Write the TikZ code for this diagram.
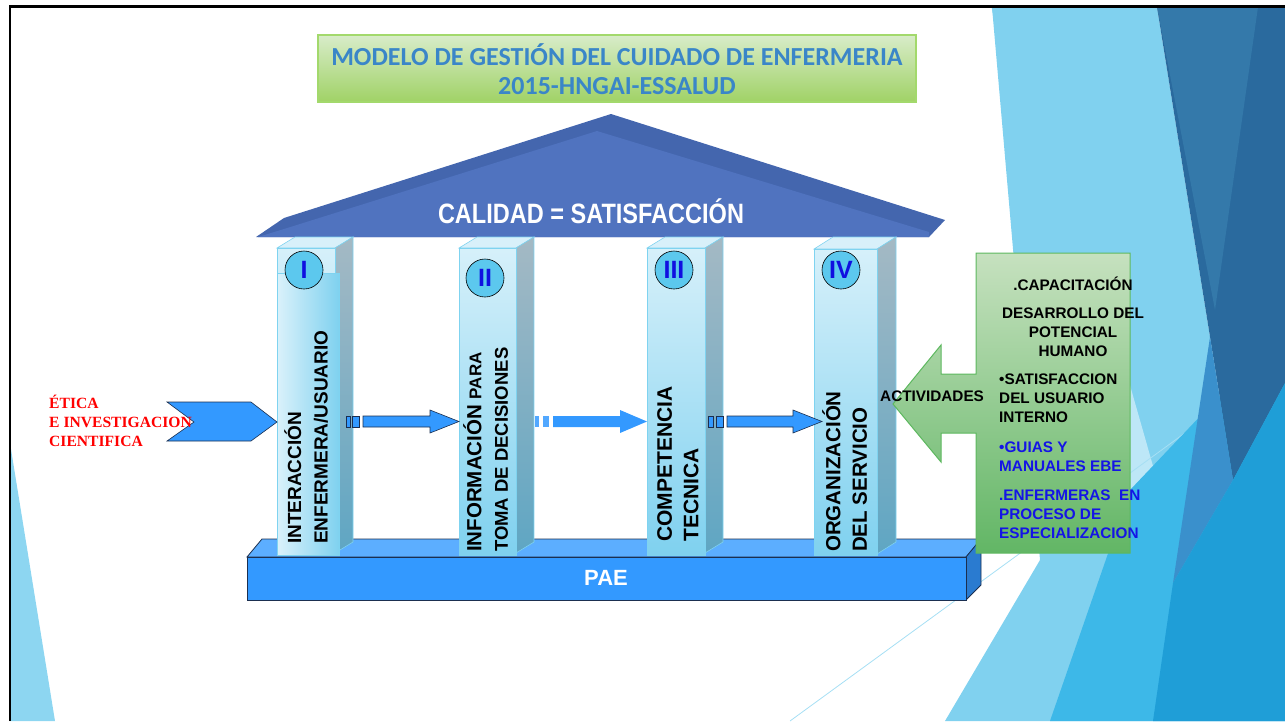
\documentclass[tikz,border=0pt]{standalone}
\usepackage{fontspec}
\setmainfont{Liberation Sans}
\newfontfamily\ttlfont{Carlito}
\newfontfamily\redfont{Liberation Serif}
\usetikzlibrary{positioning}

\definecolor{ttlblue}{HTML}{3A86C8}
\definecolor{ttltop}{HTML}{D8ECC9}
\definecolor{ttlbot}{HTML}{A0D266}
\definecolor{ttlline}{HTML}{A3D96C}
\definecolor{roofdark}{HTML}{4466AE}
\definecolor{roofface}{HTML}{5073BF}
\definecolor{pilhi}{HTML}{D6F0FA}
\definecolor{pillo}{HTML}{7FD1EF}
\definecolor{pilline}{HTML}{7FD3F0}
\definecolor{sidehi}{HTML}{A4B9C4}
\definecolor{sidelo}{HTML}{5FA6C3}
\definecolor{piltopc}{HTML}{D8F0FA}
\definecolor{numfill}{HTML}{5CC8EE}
\definecolor{numblue}{HTML}{1010E0}
\definecolor{arrblue}{HTML}{3399FF}
\definecolor{arrline}{HTML}{1B2F50}
\definecolor{paetop}{HTML}{5CAEFF}
\definecolor{paeside}{HTML}{2A7BD0}
\definecolor{grtop}{HTML}{C6E1BF}
\definecolor{grbot}{HTML}{62B665}
\definecolor{grline}{HTML}{5DB85F}
\definecolor{txblue}{HTML}{1414E6}
\definecolor{bglight}{HTML}{80D1EF}
\definecolor{bgpale}{HTML}{BDE7F7}
\definecolor{bgsteel}{HTML}{3479AA}
\definecolor{bgdark}{HTML}{2A6A9E}
\definecolor{bgmid}{HTML}{3A90CC}
\definecolor{bgbright}{HTML}{3DB8E8}
\definecolor{bgdeep}{HTML}{1F9ED7}

\begin{document}
\begin{tikzpicture}[x=1pt,y=-1pt,
  pilfront/.style={draw=pilline, line width=0.6, top color=pilhi, bottom color=pillo},
  pilside/.style={draw=pilline, line width=0.6, top color=sidehi, bottom color=sidelo},
  piltop/.style={draw=pilline, line width=0.6, fill=piltopc},
  num/.style={circle, draw=black, line width=0.6, fill=numfill, minimum size=38, inner sep=0,
    text=numblue, font={\fontsize{25}{25}\selectfont\bfseries}},
  coltext/.style={rotate=90, anchor=north west, align=left, inner sep=0,
    font={\fontsize{20.5}{26.5}\selectfont\bfseries}},
  blk/.style={fill=arrblue, draw=arrline, line width=0.6},
  boxtext/.style={inner sep=0, font={\fontsize{15.3}{19}\selectfont\bfseries}}
  ]
\useasboundingbox (0,0) rectangle (1285,721);

% background facets
\begin{scope}
\clip (0,0) rectangle (1285,721);
\fill[bglight] (992,7) -- (1157,7) -- (1233,480) -- (1285,383) -- (1285,721) -- (945,721) -- (1040,560) -- cycle;
\fill[bgpale] (1100,280) -- (1157,480) -- (1120,505) -- cycle;
\draw[bglight!70!white, line width=0.8] (790,721) -- (1285,360);
\draw[bglight, line width=0.8] (1040,260) -- (992,7);
\fill[bgbright] (1285,327) -- (1285,721) -- (1050,721) -- (1130,490) -- cycle;
\fill[bgdark] (1157,7) -- (1285,7) -- (1285,383) -- (1233,480) -- cycle;
\fill[bgsteel] (1157,7) -- (1258,7) -- (1215,310) -- cycle;
\fill[bgmid] (1210,337) -- (1233,480) -- (1173,583) -- cycle;
\fill[bgdeep] (1233,480) -- (1285,383) -- (1285,721) -- (1153,721) -- (1173,583) -- cycle;
\fill[bglight!90!white] (10,443) -- (55,721) -- (10,721) -- cycle;
\end{scope}
\draw[line width=2.4] (10,721) -- (10,6.5) -- (1285,6.5);

% title
\draw[ttlline, line width=1.5, top color=ttltop, bottom color=ttlbot] (318,35) rectangle (916,102);
\node (title) at (617,69) [align=center, inner sep=0, text=ttlblue,
  font={\ttlfont\fontsize{26}{29}\selectfont\bfseries}] {MODELO DE GESTIÓN DEL CUIDADO DE ENFERMERIA\\2015-HNGAI-ESSALUD};

% PAE base
\draw[arrline, line width=0.8, fill=paetop] (247,557) -- ++(15,-18) -- (981,539) -- (966,557) -- cycle;
\draw[arrline, line width=0.8, fill=paeside] (966,557) -- (981,539) -- (981,585) -- (966,600) -- cycle;
\draw[arrline, line width=0.8, fill=arrblue] (247,557) rectangle (966,600);
\node (pae) at (606,578) [text=white, font={\fontsize{22}{22}\selectfont\bfseries}] {PAE};

% roof
\fill[roofdark] (256,237) -- (284,218) -- (611,114) -- (945,220) -- (929,237) -- cycle;
\fill[roofface] (258,237) -- (284,229) -- (597,131) -- (929,232) -- (929,237) -- cycle;
\node (calidad) at (591,211) [text=white, font={\fontsize{28}{28}\selectfont\bfseries}] {\scalebox{0.84}[1]{CALIDAD = SATISFACCIÓN}};

% pillar I
\draw[piltop] (277,248) -- ++(18,-11) -- ++(58,0) -- ++(-18,11) -- cycle;
\draw[pilside] (335,248) -- ++(18,-11) -- ++(0,305) -- ++(-18,11) -- cycle;
\draw[pilfront] (277,248) rectangle (335,555);
\draw[draw=pilline, line width=0.6, left color=pilhi!90!white, right color=pillo] (277,273) rectangle (339,555);
% pillar II
\draw[piltop] (459,248) -- ++(18,-11) -- ++(57,0) -- ++(-18,11) -- cycle;
\draw[pilside] (516,248) -- ++(18,-11) -- ++(0,305) -- ++(-18,11) -- cycle;
\draw[pilfront] (459,248) rectangle (516,555);
% pillar III
\draw[piltop] (647,248) -- ++(18,-11) -- ++(58,0) -- ++(-18,11) -- cycle;
\draw[pilside] (705,248) -- ++(18,-11) -- ++(0,305) -- ++(-18,11) -- cycle;
\draw[pilfront] (647,248) rectangle (705,555);
% pillar IV
\draw[piltop] (814,249) -- ++(19,-12) -- ++(63,0) -- ++(-19,12) -- cycle;
\draw[pilside] (877,249) -- ++(19,-12) -- ++(0,305) -- ++(-19,12) -- cycle;
\draw[pilfront] (814,249) rectangle (877,555);

\node[num] (n1) at (304,270) {I};
\node[num] (n2) at (485,278) {II};
\node[num] (n3) at (674,270) {III};
\node[num] (n4) at (841,270) {IV};

\node[coltext] (c1) at (284,544) [font={\fontsize{19}{26.5}\selectfont\bfseries}] {INTERACCIÓN\\ENFERMERA/USUARIO};
\node[coltext] (c2) at (463,552) {INFORMACIÓN {\fontsize{17}{26.5}\selectfont PARA}\\{\fontsize{18.5}{26.5}\selectfont TOMA DE DECISIONES}};
\node[coltext] (c3) at (657,542) [font={\fontsize{21}{26.5}\selectfont\bfseries}] {COMPETENCIA\\TECNICA};
\node[coltext] (c4) at (822,552) {ORGANIZACIÓN\\DEL SERVICIO};

% arrows between pillars
\draw[blk] (346,416) rectangle ++(4,11);
\draw[blk] (352,416) rectangle ++(7,11);
\draw[blk] (363,416) --++(67,0) --++(0,-6) --++(29,11.5) --++(-29,11.5) --++(0,-6) --++(-67,0) -- cycle;

\fill[arrblue!85!white] (535,416) rectangle ++(4,11);
\fill[arrblue!85!white] (543,416) rectangle ++(6,11);
\fill[arrblue] (553,416) --++(67,0) --++(0,-6) --++(27,11.5) --++(-27,11.5) --++(0,-6) --++(-67,0) -- cycle;

\draw[blk] (708,416) rectangle ++(5,11);
\draw[blk] (716,416) rectangle ++(7,11);
\draw[blk] (727,416) --++(66,0) --++(0,-6) --++(29,11.5) --++(-29,11.5) --++(0,-6) --++(-66,0) -- cycle;

% left chevron
\draw[blk] (167,402) -- (251,402) -- (277,422) -- (251,441) -- (167,441) -- (194,422) -- cycle;
\node (etica) at (49,421) [anchor=west, align=left, inner sep=0, text=red,
  font={\redfont\fontsize{15.6}{19}\selectfont\bfseries}] {ÉTICA\\E INVESTIGACION\\CIENTIFICA};

% right callout
\draw[grline, line width=1, top color=grtop, bottom color=grbot] (976,253) -- (1130,253) -- (1130,553) -- (976,553) -- (976,433) -- (941,433) -- (941,462) -- (893,404) -- (941,345) -- (941,374) -- (976,374) -- cycle;
\node[boxtext] (act) at (880,396) [anchor=west] {ACTIVIDADES};
\node[boxtext] (cap) at (1073,284) {.CAPACITACIÓN};
\node[boxtext] (desa) at (1073,332) [align=center] {DESARROLLO DEL\\POTENCIAL\\HUMANO};
\node[boxtext] (sat) at (999,398) [anchor=west, align=left] {•SATISFACCION\\DEL USUARIO\\INTERNO};
\node[boxtext] (guia) at (999,456.5) [anchor=west, align=left, text=txblue] {•GUIAS Y\\MANUALES EBE};
\node[boxtext] (enf) at (999,514) [anchor=west, align=left, text=txblue] {.ENFERMERAS\ \ EN\\PROCESO DE\\ESPECIALIZACION};
\end{tikzpicture}
\end{document}
